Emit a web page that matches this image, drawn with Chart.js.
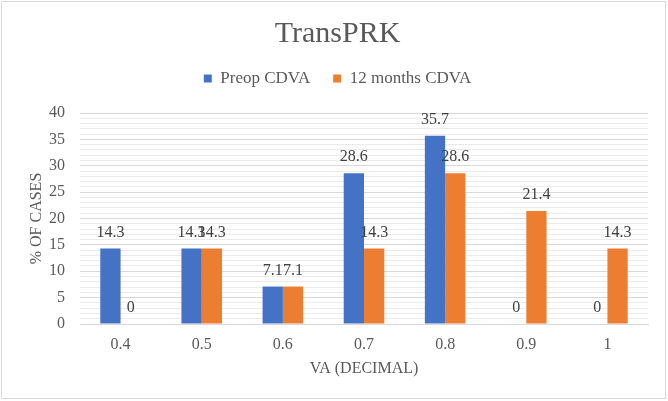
<!DOCTYPE html>
<html>
<head>
<meta charset="utf-8">
<script src="https://cdn.jsdelivr.net/npm/chart.js@4/dist/chart.umd.min.js"></script>
<style>
html,body{margin:0;padding:0;background:#fff;}
#wrap{position:absolute;left:0;top:0;width:668px;height:401px;}
</style>
</head>
<body>
<div id="wrap"><canvas id="c" width="668" height="401"></canvas></div>
<script>
const categories = ['0.4', '0.5', '0.6', '0.7', '0.8', '0.9', '1'];
const preopCDVA = [14.3, 14.3, 7.1, 28.6, 35.7, 0, 0];
const months12CDVA = [0, 14.3, 7.1, 14.3, 28.6, 21.4, 14.3];
const seriesNames = ['Preop CDVA', '12 months CDVA'];
const chartTitle = 'TransPRK';
const yTitle = '% OF CASES';
const xTitle = 'VA (DECIMAL)';

const FONT = "'Liberation Serif', 'Times New Roman', serif";

const borderPlugin = {
  id: 'outerBorder',
  beforeDraw(chart) {
    const ctx = chart.ctx;
    ctx.save();
    ctx.fillStyle = '#ffffff';
    ctx.fillRect(0, 0, chart.width, chart.height);
    ctx.strokeStyle = '#d9d9d9';
    ctx.lineWidth = 1;
    ctx.strokeRect(1.5, 1.5, chart.width - 4, chart.height - 4);
    ctx.restore();
  }
};

const legendGapPlugin = {
  id: 'legendGap',
  beforeInit(chart) {
    const lg = chart.legend;
    if (!lg) return;
    const origFit = lg.fit;
    lg.fit = function () {
      origFit.call(this);
      this.height += 16;
    };
  }
};

const labelPlugin = {
  id: 'valueLabels',
  afterDatasetsDraw(chart) {
    const ctx = chart.ctx;
    ctx.save();
    ctx.font = "16px " + FONT;
    ctx.fillStyle = '#404040';
    ctx.textAlign = 'center';
    ctx.textBaseline = 'bottom';
    chart.data.datasets.forEach((ds, i) => {
      const meta = chart.getDatasetMeta(i);
      meta.data.forEach((bar, j) => {
        ctx.fillText(String(ds.data[j]), bar.x, bar.y - 8);
      });
    });
    ctx.restore();
  }
};

new Chart(document.getElementById('c'), {
  type: 'bar',
  data: {
    labels: categories,
    datasets: [
      { label: seriesNames[0], data: preopCDVA, backgroundColor: '#4472C4', borderWidth: 0 },
      { label: seriesNames[1], data: months12CDVA, backgroundColor: '#ED7D31', borderWidth: 0 }
    ]
  },
  options: {
    responsive: false,
    animation: false,
    devicePixelRatio: 1,
    layout: { padding: { left: 27, right: 20, top: 10, bottom: 23 } },
    datasets: { bar: { categoryPercentage: 0.5, barPercentage: 1.0 } },
    plugins: {
      title: {
        display: true,
        text: chartTitle,
        color: '#595959',
        font: { family: FONT, size: 30, weight: 'normal' },
        padding: { top: 6, bottom: -5 }
      },
      legend: {
        display: true,
        position: 'top',
        labels: {
          color: '#595959',
          font: { family: FONT, size: 17 },
          boxWidth: 8,
          boxHeight: 8,
          padding: 23
        }
      },
      tooltip: { enabled: false }
    },
    scales: {
      x: {
        grid: { display: false, drawTicks: false },
        border: { display: true, color: '#d9d9d9' },
        ticks: { color: '#595959', font: { family: FONT, size: 16 }, padding: 11 },
        title: { display: true, text: xTitle, color: '#595959', font: { family: FONT, size: 16 }, padding: { top: 0, bottom: 0 } },
        afterFit: (scale) => { scale.height = 54; }
      },
      y: {
        min: 0,
        max: 40,
        grid: {
          drawTicks: false,
          color: (ctx) => (ctx.tick && ctx.tick.value % 5 === 0) ? '#d9d9d9' : '#ebebeb',
          lineWidth: 1
        },
        border: { display: false },
        ticks: {
          stepSize: 1,
          autoSkip: false,
          color: '#595959',
          font: { family: FONT, size: 16 },
          padding: 15,
          callback: (v) => (v % 5 === 0 ? String(v) : '')
        },
        title: { display: true, text: yTitle, color: '#595959', font: { family: FONT, size: 16 }, padding: { top: 0, bottom: 0 } },
        afterFit: (scale) => { scale.width = 53; }
      }
    }
  },
  plugins: [borderPlugin, legendGapPlugin, labelPlugin]
});
</script>
</body>
</html>
